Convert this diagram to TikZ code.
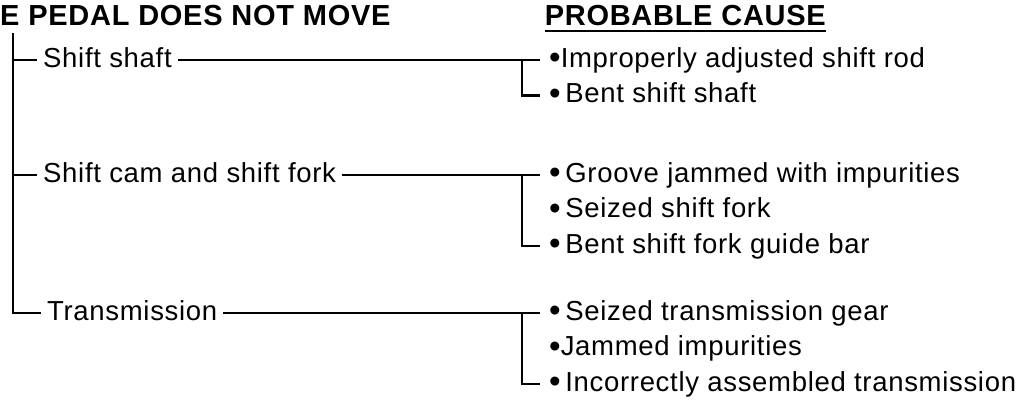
\documentclass[tikz,border=0pt]{standalone}
\usepackage{fontspec}
\setmainfont{Liberation Sans}[LetterSpace=2.5]
\usetikzlibrary{positioning}
\newcommand\dotmark{\raisebox{-1.5pt}{\fontsize{33}{32}\selectfont•}}
\tikzset{
  part/.style={anchor=west, inner xsep=6pt, inner ysep=0pt, text height=19pt,
    text depth=5pt, font=\fontsize{27.5}{32}\selectfont},
  cause/.style={anchor=west, inner xsep=9pt, inner ysep=0pt, text height=19pt,
    text depth=5pt, font=\fontsize{27.5}{32}\selectfont},
  head/.style={inner sep=0pt, font=\fontsize{29}{32}\selectfont\bfseries},
  link/.style={draw=black, line width=2.5pt},
}
\begin{document}
\begin{tikzpicture}[x=1pt, y=1pt, node distance=35.5pt]
  \useasboundingbox (0,0) rectangle (1019,-408);
  \node[head, anchor=base west] (title) at (0,-25) {E PEDAL DOES NOT MOVE};
  \node[head, anchor=base east] (cause) at (826,-25) {PROBABLE CAUSE};
  \draw[link] ([yshift=-6pt]cause.base west) -- ([yshift=-6pt]cause.base east);
  % parts
  \coordinate (trunk) at (13,-33);
  \node[part] (shaft) at (37,-60) {Shift shaft};
  \node[part] (cam) at (37,-175) {Shift cam and shift fork};
  \node[part] (trans) at (41,-313) {Transmission};
  % causes
  \node[cause] (shaftA) at (540,-60) {\dotmark Improperly adjusted shift rod};
  \node[cause, below=of shaftA.west, anchor=west] (shaftB) {\dotmark\,Bent shift shaft};
  \node[cause] (camA) at (540,-175) {\dotmark\,Groove jammed with impurities};
  \node[cause, below=of camA.west, anchor=west] (camB) {\dotmark\,Seized shift fork};
  \node[cause, below=of camB.west, anchor=west] (camC) {\dotmark\,Bent shift fork guide bar};
  \node[cause] (transA) at (540,-313) {\dotmark\,Seized transmission gear};
  \node[cause, below=of transA.west, anchor=west] (transB) {\dotmark Jammed impurities};
  \node[cause, below=of transB.west, anchor=west] (transC) {\dotmark\,Incorrectly assembled transmission};
  % tree
  \draw[link] (trunk) |- (trans.west);
  \draw[link] (shaft.west -| trunk) -- (shaft.west);
  \draw[link] (cam.west -| trunk) -- (cam.west);
  \draw[link] (shaft.east) -- (shaftA.west);
  \draw[link] (cam.east) -- (camA.west);
  \draw[link] (trans.east) -- (transA.west);
  \draw[link] ([xshift=-18pt]shaftA.west) |- (shaftB.west);
  \draw[link] ([xshift=-18pt]camA.west) |- (camC.west);
  \draw[link] ([xshift=-18pt]transA.west) |- (transC.west);
\end{tikzpicture}
\end{document}
